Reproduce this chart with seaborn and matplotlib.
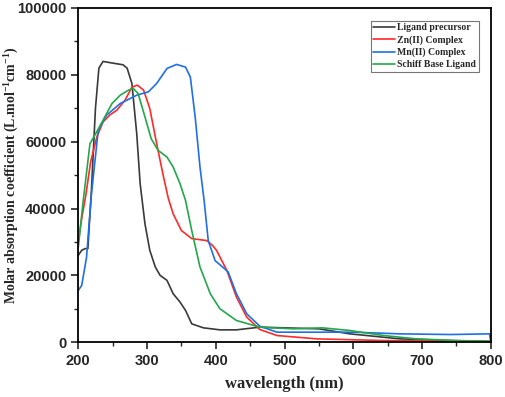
import pandas as pd
import matplotlib
matplotlib.use("Agg")
import matplotlib.pyplot as plt
from matplotlib.ticker import MultipleLocator
import seaborn as sns

# Spectra (wavelength in nm, molar absorption coefficient)
series_names = ["Ligand precursor", "Zn(II) Complex", "Mn(II) Complex", "Schiff Base Ligand"]
series_colors = ["#3a3a3a", "#ff2a2a", "#1f6fe8", "#22a84a"]

lig_nm = [200, 205, 210, 214, 216, 219, 225, 230, 236, 250, 265, 271, 278, 285, 290, 297,
          304, 312, 319, 329, 338, 348, 356, 365, 382, 406, 430, 464, 500, 550, 595, 668, 741, 800]
lig_val = [26000, 27500, 28000, 28000, 35000, 45000, 70000, 82000, 84000, 83500, 83000, 82000,
           77400, 62400, 47400, 35400, 27500, 22500, 20000, 18500, 14500, 12000, 9500, 5500,
           4300, 3700, 3700, 4500, 4300, 4000, 2500, 1000, 500, 200]

zn_nm = [200, 205, 211, 218, 227, 236, 246, 256, 268, 278, 286, 295, 304, 314, 324, 331, 338,
         350, 365, 387, 395, 401, 416, 430, 445, 464, 489, 547, 644, 800]
zn_val = [30000, 37000, 44000, 54000, 61400, 65900, 68000, 69400, 72400, 76300, 76900, 75400,
          69900, 59400, 49400, 43000, 38400, 33400, 31000, 30400, 29000, 27500, 21500, 13500,
          7500, 3800, 2000, 1000, 500, 200]

mn_nm = [200, 205, 212, 219, 229, 241, 261, 285, 302, 314, 329, 343, 356, 363, 370, 377, 383,
         389, 399, 411, 418, 430, 445, 464, 489, 550, 600, 668, 741, 798, 800]
mn_val = [15500, 17000, 25400, 44000, 63400, 67900, 71400, 73900, 74900, 77400, 81900, 83100,
          82300, 79300, 67400, 52400, 42400, 30400, 24400, 22300, 21000, 14500, 8500, 4800,
          3000, 3000, 3000, 2500, 2300, 2500, 0]

sb_nm = [200, 207, 217, 224, 236, 249, 261, 273, 280, 287, 297, 306, 316, 329, 338, 348, 356,
         365, 377, 392, 406, 430, 464, 513, 555, 595, 644, 692, 750, 800]
sb_val = [28400, 42000, 59400, 61900, 66400, 71400, 73900, 75400, 75900, 74400, 67400, 60900,
          57400, 55400, 52400, 47400, 42400, 33400, 22500, 14500, 10000, 6500, 4500, 4000, 4300,
          3500, 2000, 1000, 500, 300]

frames = []
for name, xs, ys in zip(series_names, [lig_nm, zn_nm, mn_nm, sb_nm], [lig_val, zn_val, mn_val, sb_val]):
    frames.append(pd.DataFrame({"nm": xs, "val": ys, "series": name}))
df = pd.concat(frames, ignore_index=True)

sns.set_style("ticks")
plt.rcParams["mathtext.fontset"] = "custom"
plt.rcParams["mathtext.rm"] = "Liberation Serif:bold"
plt.rcParams["mathtext.it"] = "Liberation Serif:italic:bold"
plt.rcParams["mathtext.bf"] = "Liberation Serif:bold"

fig = plt.figure(figsize=(5.05, 3.97), dpi=100)
ax = fig.add_axes([0.155, 0.138, 0.817, 0.842])

sns.lineplot(data=df, x="nm", y="val", hue="series", palette=series_colors,
             sort=False, estimator=None, linewidth=1.2, ax=ax)

ax.set_xlim(200, 800)
ax.set_ylim(0, 100000)
ax.xaxis.set_major_locator(MultipleLocator(100))
ax.xaxis.set_minor_locator(MultipleLocator(50))
ax.yaxis.set_major_locator(MultipleLocator(20000))
ax.yaxis.set_minor_locator(MultipleLocator(10000))
ax.tick_params(which="major", direction="out", length=5, width=1.2, labelsize=10.5)
ax.tick_params(which="minor", direction="out", length=3, width=1.0)
for lab in ax.get_xticklabels() + ax.get_yticklabels():
    lab.set_fontfamily("Liberation Sans")
    lab.set_fontweight("bold")
for sp in ax.spines.values():
    sp.set_visible(True)
    sp.set_linewidth(1.3)
    sp.set_color("black")

ax.set_xlabel("wavelength (nm)", fontfamily="Liberation Serif", fontweight="bold", fontsize=12,
              labelpad=6)
ax.set_ylabel(r"Molar absorption coefficient (L.mol$^{-1}$cm$^{-1}$)",
              fontfamily="Liberation Serif", fontweight="bold", fontsize=10)
ax.yaxis.set_label_coords(-0.14, 0.5)

leg = ax.legend(loc="upper right", bbox_to_anchor=(0.982, 0.976), frameon=True, fancybox=False,
                edgecolor="#555555", handlelength=2.3, handletextpad=0.2, borderpad=0.25,
                labelspacing=0.3, prop={"family": "Liberation Serif", "weight": "bold", "size": 7})
leg.get_frame().set_linewidth(0.8)

fig.savefig("out.png", dpi=100)
